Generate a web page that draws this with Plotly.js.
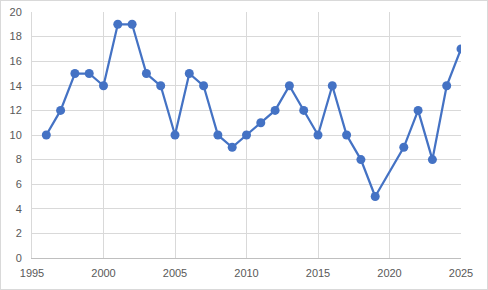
<!DOCTYPE html>
<html>
<head>
<meta charset="utf-8">
<script src="https://cdn.plot.ly/plotly-3.0.1.min.js"></script>
<style>
html,body{margin:0;padding:0;background:#fff;}
#chart{width:486px;height:288px;border:1px solid #d9d9d9;}
</style>
</head>
<body>
<div id="chart"></div>
<script>
const years = [1996,1997,1998,1999,2000,2001,2002,2003,2004,2005,2006,2007,2008,2009,2010,2011,2012,2013,2014,2015,2016,2017,2018,2019,2021,2022,2023,2024,2025];
const values = [10,12,15,15,14,19,19,15,14,10,15,14,10,9,10,11,12,14,12,10,14,10,8,5,9,12,8,14,17];
const xTicks = [1995,2000,2005,2010,2015,2020,2025];
const yTicks = [0,2,4,6,8,10,12,14,16,18,20];

const trace = {
  x: years, y: values, type: 'scatter', mode: 'lines+markers',
  line: {color: '#4472C4', width: 2.25},
  marker: {color: '#4472C4', size: 9},
  hoverinfo: 'skip'
};
const layout = {
  width: 486, height: 288,
  margin: {l: 31, r: 26, t: 11, b: 31},
  paper_bgcolor: '#fff', plot_bgcolor: '#fff',
  showlegend: false,
  font: {family: 'Liberation Sans, Arial, sans-serif', size: 11, color: '#595959'},
  xaxis: {
    range: [1995, 2025], tickvals: xTicks, ticktext: xTicks.map(String),
    showgrid: true, gridcolor: '#d9d9d9', gridwidth: 1,
    zeroline: false, showline: true, linecolor: '#bfbfbf', linewidth: 1,
    ticks: 'outside', ticklen: 5, tickcolor: 'rgba(0,0,0,0)'
  },
  yaxis: {
    range: [0, 20], tickvals: yTicks, ticktext: yTicks.map(String),
    showgrid: true, gridcolor: '#d9d9d9', gridwidth: 1,
    zeroline: false, showline: true, linecolor: '#d9d9d9', linewidth: 1,
    ticks: 'outside', ticklen: 7, tickcolor: 'rgba(0,0,0,0)'
  }
};
Plotly.newPlot('chart', [trace], layout, {staticPlot: true, displayModeBar: false});
</script>
</body>
</html>
